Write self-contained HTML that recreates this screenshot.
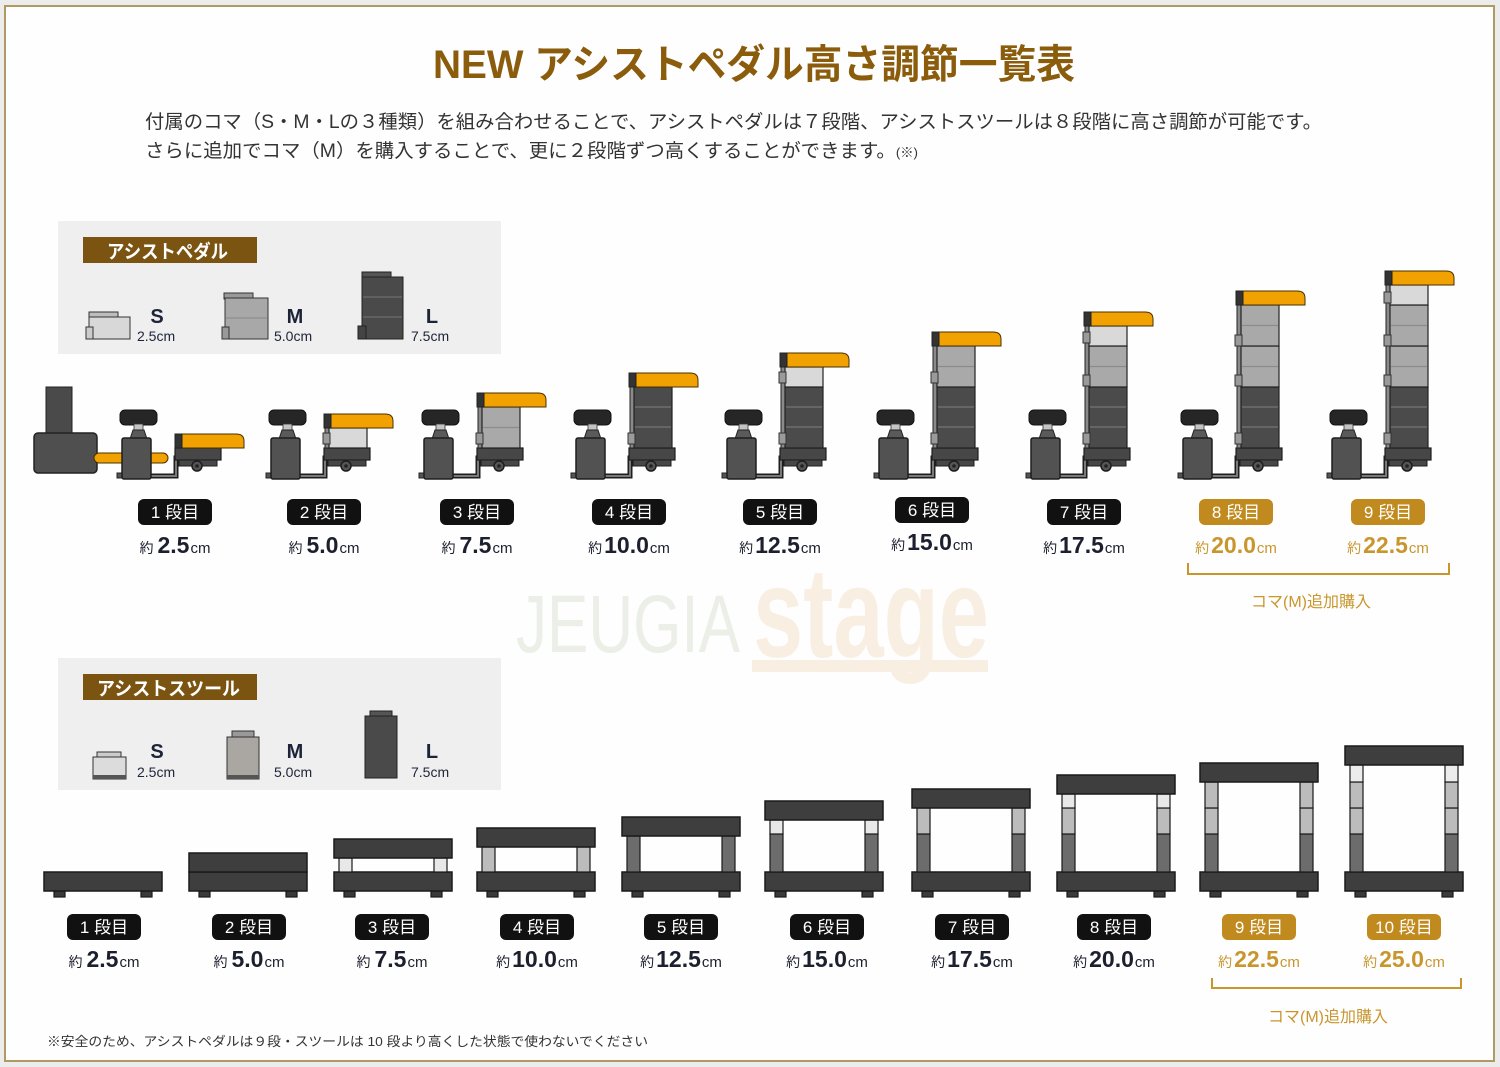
<!DOCTYPE html>
<html><head><meta charset="utf-8"><style>
html,body{margin:0;padding:0;background:#ececec;}
svg{display:block;}
text{font-family:"Liberation Sans","Noto Sans CJK JP",sans-serif;}
</style></head><body>
<svg width="1500" height="1067" viewBox="0 0 1500 1067" xmlns="http://www.w3.org/2000/svg">
<defs>
<g id="pk">
 <rect x="-55" y="410" width="37" height="15" rx="5" fill="#262626" stroke="#111"/>
 <rect x="-41" y="424" width="9" height="7" fill="#c4c4c4" stroke="#333" stroke-width=".8"/>
 <path d="M-45 439 L-42 430 L-31 430 L-28 439 Z" fill="#5a5a5a" stroke="#222"/>
 <path d="M-24 476 H1 V458 H6" fill="none" stroke="#1e1e1e" stroke-width="5"/>
 <path d="M-24 476 H1 V458 H6" fill="none" stroke="#7a7a7a" stroke-width="2"/>
 <rect x="-58" y="473" width="7" height="5" fill="#555" stroke="#222"/>
 <rect x="-53" y="438" width="29" height="41" rx="2" fill="#525252" stroke="#1e1e1e" stroke-width="1.5"/>
 <rect x="0" y="448" width="46" height="12" fill="#474747" stroke="#1e1e1e" stroke-width="1.2"/>
 <rect x="4" y="460" width="38" height="6" fill="#474747" stroke="#1e1e1e"/>
 <circle cx="22" cy="466" r="5" fill="#555" stroke="#1e1e1e" stroke-width="1.5"/>
 <circle cx="22" cy="466" r="1.8" fill="#222"/>
</g>
<g id="or">
 <path d="M0 0 H61 Q69 0 69 7 V14 H0 Z" fill="#f2a200" stroke="#4a3000" stroke-width="1"/>
 <rect x="0" y="0" width="7" height="14" fill="#333" stroke="#222"/>
</g>
<g id="bS"><rect x="5" y="0" width="38" height="20" fill="#d9d9d9" stroke="#222" stroke-width="1.2"/></g>
<g id="bM"><rect x="5" y="0" width="38" height="41" fill="#a9a9a9" stroke="#222" stroke-width="1.2"/><line x1="6" y1="20.5" x2="42" y2="20.5" stroke="#8c8c8c" stroke-width="1.3"/></g>
<g id="bL"><rect x="5" y="0" width="38" height="61" fill="#4b4b4b" stroke="#222" stroke-width="1.2"/><line x1="6" y1="20" x2="42" y2="20" stroke="#6e6e6e" stroke-width="1.5"/><line x1="6" y1="40" x2="42" y2="40" stroke="#6e6e6e" stroke-width="1.5"/></g>
<g id="tab"><rect x="-1" y="0" width="7" height="11" fill="#9a9a9a" stroke="#333"/></g>
<g id="feet">
 <rect x="10" y="891" width="11" height="6" fill="#3a3a3a" stroke="#1a1a1a"/>
 <rect x="97" y="891" width="11" height="6" fill="#3a3a3a" stroke="#1a1a1a"/>
 <rect x="0" y="872" width="118" height="19" fill="#3e3e3e" stroke="#1a1a1a" stroke-width="1.5"/>
</g>
</defs>

<!-- frame -->
<rect x="5" y="6" width="1489" height="1055" fill="#fefefe" stroke="#b09a62" stroke-width="2"/>

<!-- watermark -->
<text x="516" y="652" font-size="82" fill="#eceee8" textLength="224" lengthAdjust="spacingAndGlyphs">JEUGIA</text>
<text x="753" y="657" font-size="128" font-weight="bold" fill="#f8efe2" textLength="236" lengthAdjust="spacingAndGlyphs">stage</text>
<rect x="752" y="660" width="236" height="12" fill="#f8efe2"/>

<!-- title -->
<text x="433" y="78" font-size="40" font-weight="bold" fill="#8a5c0c" textLength="642" lengthAdjust="spacingAndGlyphs">NEW アシストペダル高さ調節一覧表</text>
<text x="145" y="128" font-size="19" fill="#333" textLength="1177" lengthAdjust="spacingAndGlyphs">付属のコマ（S・M・Lの３種類）を組み合わせることで、アシストペダルは７段階、アシストスツールは８段階に高さ調節が可能です。</text>
<text x="145" y="157" font-size="19" fill="#333" textLength="773" lengthAdjust="spacingAndGlyphs">さらに追加でコマ（M）を購入することで、更に２段階ずつ高くすることができます。<tspan font-size="13">(※)</tspan></text>

<!-- pedal legend -->
<rect x="58" y="221" width="443" height="133" fill="#efefef"/>
<rect x="83" y="237" width="174" height="26" fill="#7b5412"/>
<text x="107" y="258" font-size="19" font-weight="bold" fill="#fff" textLength="121" lengthAdjust="spacingAndGlyphs">アシストペダル</text>
<rect x="89" y="312" width="29" height="6" fill="#bdbdbd" stroke="#333"/>
<rect x="89" y="317" width="41" height="22" fill="#d8d8d8" stroke="#333"/>
<rect x="86" y="327" width="7" height="12" fill="#ccc" stroke="#333"/>
<rect x="224" y="293" width="29" height="6" fill="#999" stroke="#333"/>
<rect x="225" y="298" width="43" height="41" fill="#a8a8a8" stroke="#333"/>
<line x1="226" y1="318" x2="267" y2="318" stroke="#888"/>
<rect x="222" y="327" width="7" height="12" fill="#999" stroke="#333"/>
<rect x="362" y="272" width="29" height="6" fill="#555" stroke="#222"/>
<rect x="362" y="277" width="41" height="62" fill="#4a4a4a" stroke="#222"/>
<line x1="363" y1="297" x2="402" y2="297" stroke="#777"/>
<line x1="363" y1="317" x2="402" y2="317" stroke="#777"/>
<rect x="358" y="326" width="8" height="13" fill="#444" stroke="#222"/>
<g fill="#1e2438">
<text x="157" y="323" font-size="20" font-weight="bold" text-anchor="middle">S</text>
<text x="137" y="341" font-size="14">2.5cm</text>
<text x="295" y="323" font-size="20" font-weight="bold" text-anchor="middle">M</text>
<text x="274" y="341" font-size="14">5.0cm</text>
<text x="432" y="323" font-size="20" font-weight="bold" text-anchor="middle">L</text>
<text x="411" y="341" font-size="14">7.5cm</text>
</g>

<!-- pedal 1 extra -->
<rect x="46" y="387" width="26" height="47" fill="#4a4a4a" stroke="#222"/>
<rect x="34" y="433" width="63" height="40" rx="4" fill="#4f4f4f" stroke="#222" stroke-width="1.5"/>
<rect x="94" y="453" width="74" height="10" rx="5" fill="#f2a200" stroke="#4a3000"/>

<!-- pedals -->
<g transform="translate(175,0)"><use href="#pk"/><use href="#or" y="434"/></g>
<g transform="translate(324,0)"><use href="#pk"/><rect x="1" y="428" width="4" height="20" fill="#8a8a8a" stroke="#222"/><use href="#bS" y="428"/><use href="#tab" y="433"/><use href="#or" y="414"/></g>
<g transform="translate(477,0)"><use href="#pk"/><rect x="1" y="407" width="4" height="41" fill="#8a8a8a" stroke="#222"/><use href="#bM" y="407"/><use href="#tab" y="433"/><use href="#or" y="393"/></g>
<g transform="translate(629,0)"><use href="#pk"/><rect x="1" y="387" width="4" height="61" fill="#8a8a8a" stroke="#222"/><use href="#bL" y="387"/><use href="#tab" y="433"/><use href="#or" y="373"/></g>
<g transform="translate(780,0)"><use href="#pk"/><rect x="1" y="367" width="4" height="81" fill="#8a8a8a" stroke="#222"/><use href="#bL" y="387"/><use href="#bS" y="367"/><use href="#tab" y="433"/><use href="#tab" y="372"/><use href="#or" y="353"/></g>
<g transform="translate(932,0)"><use href="#pk"/><rect x="1" y="346" width="4" height="102" fill="#8a8a8a" stroke="#222"/><use href="#bL" y="387"/><use href="#bM" y="346"/><use href="#tab" y="433"/><use href="#tab" y="372"/><use href="#or" y="332"/></g>
<g transform="translate(1084,0)"><use href="#pk"/><rect x="1" y="326" width="4" height="122" fill="#8a8a8a" stroke="#222"/><use href="#bL" y="387"/><use href="#bM" y="346"/><use href="#bS" y="326"/><use href="#tab" y="433"/><use href="#tab" y="375"/><use href="#tab" y="332"/><use href="#or" y="312"/></g>
<g transform="translate(1236,0)"><use href="#pk"/><rect x="1" y="305" width="4" height="143" fill="#8a8a8a" stroke="#222"/><use href="#bL" y="387"/><use href="#bM" y="346"/><use href="#bM" y="305"/><use href="#tab" y="433"/><use href="#tab" y="375"/><use href="#tab" y="335"/><use href="#or" y="291"/></g>
<g transform="translate(1385,0)"><use href="#pk"/><rect x="1" y="285" width="4" height="163" fill="#8a8a8a" stroke="#222"/><use href="#bL" y="387"/><use href="#bM" y="346"/><use href="#bM" y="305"/><use href="#bS" y="285"/><use href="#tab" y="433"/><use href="#tab" y="375"/><use href="#tab" y="335"/><use href="#tab" y="292"/><use href="#or" y="271"/></g>

<!-- pedal labels -->
<g font-size="17" fill="#fff" text-anchor="middle">
<rect x="138" y="499" width="74" height="26" rx="6" fill="#111"/><text x="175" y="518">1 段目</text>
<rect x="287" y="499" width="74" height="26" rx="6" fill="#111"/><text x="324" y="518">2 段目</text>
<rect x="440" y="499" width="74" height="26" rx="6" fill="#111"/><text x="477" y="518">3 段目</text>
<rect x="592" y="499" width="74" height="26" rx="6" fill="#111"/><text x="629" y="518">4 段目</text>
<rect x="743" y="499" width="74" height="26" rx="6" fill="#111"/><text x="780" y="518">5 段目</text>
<rect x="895" y="497" width="74" height="26" rx="6" fill="#111"/><text x="932" y="516">6 段目</text>
<rect x="1047" y="499" width="74" height="26" rx="6" fill="#111"/><text x="1084" y="518">7 段目</text>
<rect x="1199" y="499" width="74" height="26" rx="6" fill="#c08a1e"/><text x="1236" y="518">8 段目</text>
<rect x="1351" y="499" width="74" height="26" rx="6" fill="#c08a1e"/><text x="1388" y="518">9 段目</text>
</g>
<g text-anchor="middle" fill="#1c1f2e">
<text x="175" y="553"><tspan font-size="14">約</tspan><tspan font-size="23" font-weight="bold" dx="4">2.5</tspan><tspan font-size="15" dx="1">cm</tspan></text>
<text x="324" y="553"><tspan font-size="14">約</tspan><tspan font-size="23" font-weight="bold" dx="4">5.0</tspan><tspan font-size="15" dx="1">cm</tspan></text>
<text x="477" y="553"><tspan font-size="14">約</tspan><tspan font-size="23" font-weight="bold" dx="4">7.5</tspan><tspan font-size="15" dx="1">cm</tspan></text>
<text x="629" y="553"><tspan font-size="14">約</tspan><tspan font-size="23" font-weight="bold" dx="2">10.0</tspan><tspan font-size="15" dx="1">cm</tspan></text>
<text x="780" y="553"><tspan font-size="14">約</tspan><tspan font-size="23" font-weight="bold" dx="2">12.5</tspan><tspan font-size="15" dx="1">cm</tspan></text>
<text x="932" y="550"><tspan font-size="14">約</tspan><tspan font-size="23" font-weight="bold" dx="2">15.0</tspan><tspan font-size="15" dx="1">cm</tspan></text>
<text x="1084" y="553"><tspan font-size="14">約</tspan><tspan font-size="23" font-weight="bold" dx="2">17.5</tspan><tspan font-size="15" dx="1">cm</tspan></text>
</g>
<g text-anchor="middle" fill="#c9962e">
<text x="1236" y="553"><tspan font-size="14">約</tspan><tspan font-size="23" font-weight="bold" dx="2">20.0</tspan><tspan font-size="15" dx="1">cm</tspan></text>
<text x="1388" y="553"><tspan font-size="14">約</tspan><tspan font-size="23" font-weight="bold" dx="2">22.5</tspan><tspan font-size="15" dx="1">cm</tspan></text>
</g>
<path d="M1188 563 V574 H1449 V563" fill="none" stroke="#c9962e" stroke-width="2"/>
<text x="1311" y="607" font-size="16" fill="#c9962e" text-anchor="middle">コマ(M)追加購入</text>

<!-- stool legend -->
<rect x="58" y="658" width="443" height="132" fill="#efefef"/>
<rect x="83" y="674" width="174" height="26" fill="#7b5412"/>
<text x="97" y="695" font-size="19" font-weight="bold" fill="#fff" textLength="143" lengthAdjust="spacingAndGlyphs">アシストスツール</text>
<rect x="97" y="752" width="24" height="5" fill="#ccc" stroke="#333"/>
<rect x="93" y="757" width="33" height="22" fill="#dcdcdc" stroke="#333"/>
<rect x="93" y="775" width="33" height="4" fill="#555"/>
<rect x="232" y="731" width="22" height="6" fill="#999" stroke="#333"/>
<rect x="227" y="737" width="32" height="42" fill="#aaa6a2" stroke="#333"/>
<rect x="227" y="775" width="32" height="4" fill="#555"/>
<rect x="370" y="711" width="22" height="5" fill="#555" stroke="#222"/>
<rect x="365" y="716" width="32" height="62" fill="#4a4a4a" stroke="#222"/>
<g fill="#1e2438">
<text x="157" y="758" font-size="20" font-weight="bold" text-anchor="middle">S</text>
<text x="137" y="777" font-size="14">2.5cm</text>
<text x="295" y="758" font-size="20" font-weight="bold" text-anchor="middle">M</text>
<text x="274" y="777" font-size="14">5.0cm</text>
<text x="432" y="758" font-size="20" font-weight="bold" text-anchor="middle">L</text>
<text x="411" y="777" font-size="14">7.5cm</text>
</g>

<!-- stools -->
<g stroke="#1a1a1a" stroke-width="1.2">
<!-- 1 -->
<g transform="translate(44,0)"><use href="#feet"/></g>
<!-- 2 -->
<g transform="translate(189,0)"><use href="#feet"/><rect x="0" y="853" width="118" height="19" fill="#3e3e3e" stroke-width="1.5"/></g>
<!-- 3 -->
<g transform="translate(334,0)"><use href="#feet"/>
<rect x="5" y="858" width="13" height="14" fill="#e8e8e8"/><rect x="100" y="858" width="13" height="14" fill="#e8e8e8"/>
<rect x="0" y="839" width="118" height="19" fill="#3e3e3e" stroke-width="1.5"/></g>
<!-- 4 -->
<g transform="translate(477,0)"><use href="#feet"/>
<rect x="5" y="847" width="13" height="25" fill="#bcbcbc"/><rect x="100" y="847" width="13" height="25" fill="#bcbcbc"/>
<rect x="0" y="828" width="118" height="19" fill="#3e3e3e" stroke-width="1.5"/></g>
<!-- 5 -->
<g transform="translate(622,0)"><use href="#feet"/>
<rect x="5" y="836" width="13" height="36" fill="#6c6c6c"/><rect x="100" y="836" width="13" height="36" fill="#6c6c6c"/>
<rect x="0" y="817" width="118" height="19" fill="#3e3e3e" stroke-width="1.5"/></g>
<!-- 6 -->
<g transform="translate(765,0)"><use href="#feet"/>
<rect x="5" y="834" width="13" height="38" fill="#6c6c6c"/><rect x="100" y="834" width="13" height="38" fill="#6c6c6c"/>
<rect x="5" y="820" width="13" height="14" fill="#e8e8e8"/><rect x="100" y="820" width="13" height="14" fill="#e8e8e8"/>
<rect x="0" y="801" width="118" height="19" fill="#3e3e3e" stroke-width="1.5"/></g>
<!-- 7 -->
<g transform="translate(912,0)"><use href="#feet"/>
<rect x="5" y="834" width="13" height="38" fill="#6c6c6c"/><rect x="100" y="834" width="13" height="38" fill="#6c6c6c"/>
<rect x="5" y="808" width="13" height="26" fill="#bcbcbc"/><rect x="100" y="808" width="13" height="26" fill="#bcbcbc"/>
<rect x="0" y="789" width="118" height="19" fill="#3e3e3e" stroke-width="1.5"/></g>
<!-- 8 -->
<g transform="translate(1057,0)"><use href="#feet"/>
<rect x="5" y="834" width="13" height="38" fill="#6c6c6c"/><rect x="100" y="834" width="13" height="38" fill="#6c6c6c"/>
<rect x="5" y="808" width="13" height="26" fill="#bcbcbc"/><rect x="100" y="808" width="13" height="26" fill="#bcbcbc"/>
<rect x="5" y="794" width="13" height="14" fill="#e8e8e8"/><rect x="100" y="794" width="13" height="14" fill="#e8e8e8"/>
<rect x="0" y="775" width="118" height="19" fill="#3e3e3e" stroke-width="1.5"/></g>
<!-- 9 -->
<g transform="translate(1200,0)"><use href="#feet"/>
<rect x="5" y="834" width="13" height="38" fill="#6c6c6c"/><rect x="100" y="834" width="13" height="38" fill="#6c6c6c"/>
<rect x="5" y="808" width="13" height="26" fill="#bcbcbc"/><rect x="100" y="808" width="13" height="26" fill="#bcbcbc"/>
<rect x="5" y="782" width="13" height="26" fill="#bcbcbc"/><rect x="100" y="782" width="13" height="26" fill="#bcbcbc"/>
<rect x="0" y="763" width="118" height="19" fill="#3e3e3e" stroke-width="1.5"/></g>
<!-- 10 -->
<g transform="translate(1345,0)"><use href="#feet"/>
<rect x="5" y="834" width="13" height="38" fill="#6c6c6c"/><rect x="100" y="834" width="13" height="38" fill="#6c6c6c"/>
<rect x="5" y="808" width="13" height="26" fill="#bcbcbc"/><rect x="100" y="808" width="13" height="26" fill="#bcbcbc"/>
<rect x="5" y="782" width="13" height="26" fill="#bcbcbc"/><rect x="100" y="782" width="13" height="26" fill="#bcbcbc"/>
<rect x="5" y="765" width="13" height="17" fill="#ececec"/><rect x="100" y="765" width="13" height="17" fill="#ececec"/>
<rect x="0" y="746" width="118" height="19" fill="#3e3e3e" stroke-width="1.5"/></g>
</g>

<!-- stool labels -->
<g font-size="17" fill="#fff" text-anchor="middle">
<rect x="67" y="914" width="74" height="26" rx="6" fill="#111"/><text x="104" y="933">1 段目</text>
<rect x="212" y="914" width="74" height="26" rx="6" fill="#111"/><text x="249" y="933">2 段目</text>
<rect x="355" y="914" width="74" height="26" rx="6" fill="#111"/><text x="392" y="933">3 段目</text>
<rect x="500" y="914" width="74" height="26" rx="6" fill="#111"/><text x="537" y="933">4 段目</text>
<rect x="644" y="914" width="74" height="26" rx="6" fill="#111"/><text x="681" y="933">5 段目</text>
<rect x="790" y="914" width="74" height="26" rx="6" fill="#111"/><text x="827" y="933">6 段目</text>
<rect x="935" y="914" width="74" height="26" rx="6" fill="#111"/><text x="972" y="933">7 段目</text>
<rect x="1077" y="914" width="74" height="26" rx="6" fill="#111"/><text x="1114" y="933">8 段目</text>
<rect x="1222" y="914" width="74" height="26" rx="6" fill="#c08a1e"/><text x="1259" y="933">9 段目</text>
<rect x="1367" y="914" width="74" height="26" rx="6" fill="#c08a1e"/><text x="1404" y="933">10 段目</text>
</g>
<g text-anchor="middle" fill="#1c1f2e">
<text x="104" y="967"><tspan font-size="14">約</tspan><tspan font-size="23" font-weight="bold" dx="4">2.5</tspan><tspan font-size="15" dx="1">cm</tspan></text>
<text x="249" y="967"><tspan font-size="14">約</tspan><tspan font-size="23" font-weight="bold" dx="4">5.0</tspan><tspan font-size="15" dx="1">cm</tspan></text>
<text x="392" y="967"><tspan font-size="14">約</tspan><tspan font-size="23" font-weight="bold" dx="4">7.5</tspan><tspan font-size="15" dx="1">cm</tspan></text>
<text x="537" y="967"><tspan font-size="14">約</tspan><tspan font-size="23" font-weight="bold" dx="2">10.0</tspan><tspan font-size="15" dx="1">cm</tspan></text>
<text x="681" y="967"><tspan font-size="14">約</tspan><tspan font-size="23" font-weight="bold" dx="2">12.5</tspan><tspan font-size="15" dx="1">cm</tspan></text>
<text x="827" y="967"><tspan font-size="14">約</tspan><tspan font-size="23" font-weight="bold" dx="2">15.0</tspan><tspan font-size="15" dx="1">cm</tspan></text>
<text x="972" y="967"><tspan font-size="14">約</tspan><tspan font-size="23" font-weight="bold" dx="2">17.5</tspan><tspan font-size="15" dx="1">cm</tspan></text>
<text x="1114" y="967"><tspan font-size="14">約</tspan><tspan font-size="23" font-weight="bold" dx="2">20.0</tspan><tspan font-size="15" dx="1">cm</tspan></text>
</g>
<g text-anchor="middle" fill="#c9962e">
<text x="1259" y="967"><tspan font-size="14">約</tspan><tspan font-size="23" font-weight="bold" dx="2">22.5</tspan><tspan font-size="15" dx="1">cm</tspan></text>
<text x="1404" y="967"><tspan font-size="14">約</tspan><tspan font-size="23" font-weight="bold" dx="2">25.0</tspan><tspan font-size="15" dx="1">cm</tspan></text>
</g>
<path d="M1212 978 V988 H1461 V978" fill="none" stroke="#c9962e" stroke-width="2"/>
<text x="1328" y="1022" font-size="16" fill="#c9962e" text-anchor="middle">コマ(M)追加購入</text>

<!-- footnote -->
<text x="47" y="1046" font-size="13" fill="#333" textLength="601" lengthAdjust="spacingAndGlyphs">※安全のため、アシストペダルは９段・スツールは 10 段より高くした状態で使わないでください</text>
</svg>
</body></html>
